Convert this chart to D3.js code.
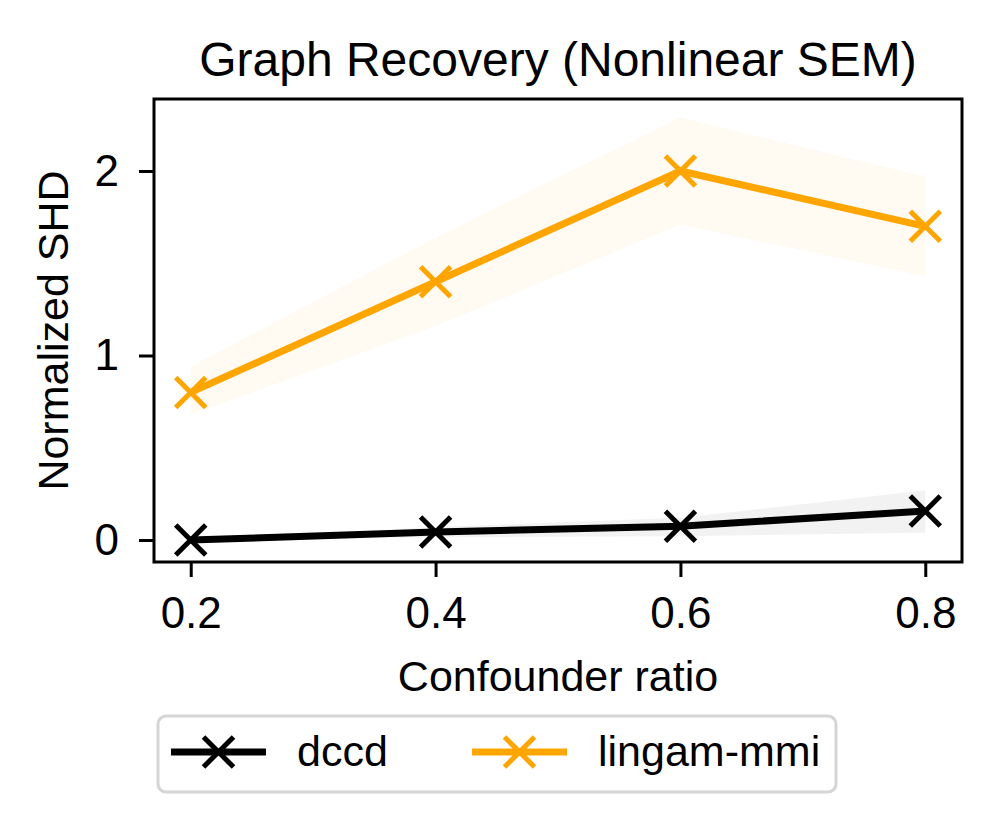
<!DOCTYPE html>
<html>
<head>
<meta charset="utf-8">
<script src="https://cdn.jsdelivr.net/npm/d3@7"></script>
<style>
  body { margin: 0; background: #fff; }
  text { font-family: "Liberation Sans", Arial, Helvetica, sans-serif; fill: #000; }
</style>
</head>
<body>
<svg id="chart"></svg>
<script>
const width = 995, height = 814;
const box = { left: 154, right: 962, top: 99, bottom: 562 };

// data
const ratios = [0.2, 0.4, 0.6, 0.8];
const xTicks = [0.2, 0.4, 0.6, 0.8];
const yTicks = [0, 1, 2];

const dccdMean  = [0.0, 0.043, 0.075, 0.157];
const dccdLow   = [0.0, 0.015, 0.02, 0.04];
const dccdHigh  = [0.0, 0.07, 0.12, 0.27];

const lingamMean = [0.8, 1.4, 2.0, 1.7];
const lingamLow  = [0.68, 1.16, 1.71, 1.43];
const lingamHigh = [0.94, 1.64, 2.29, 1.97];

const seriesNames = ["dccd", "lingam-mmi"];
const seriesColors = ["#000000", "#ffa500"];

const series = [
    { name: seriesNames[0], color: seriesColors[0], mean: dccdMean, lo: dccdLow, hi: dccdHigh },
    { name: seriesNames[1], color: seriesColors[1], mean: lingamMean, lo: lingamLow, hi: lingamHigh }
];

const svg = d3.select("#chart")
    .attr("width", width)
    .attr("height", height);

const x = d3.scaleLinear().domain([0.17, 0.83]).range([box.left, box.right]);
const y = d3.scaleLinear().domain([-0.1192, 2.3902]).range([box.bottom, box.top]);

// bands
const area = d3.area()
    .x((d, i) => x(ratios[i]))
    .y0(d => y(d[0]))
    .y1(d => y(d[1]));

series.forEach(s => {
    svg.append("path")
        .datum(s.lo.map((v, i) => [v, s.hi[i]]))
        .attr("d", area)
        .attr("fill", s.color)
        .attr("fill-opacity", 0.05);
});

// lines + x markers
const line = d3.line()
    .x((d, i) => x(ratios[i]))
    .y(d => y(d));

const markerPath = (r) => `M${-r},${-r}L${r},${r}M${-r},${r}L${r},${-r}`;

series.forEach(s => {
    svg.append("path")
        .datum(s.mean)
        .attr("d", line)
        .attr("fill", "none")
        .attr("stroke", s.color)
        .attr("stroke-width", 7)
        .attr("stroke-linejoin", "round");

    svg.append("g")
        .selectAll("path")
        .data(s.mean)
        .join("path")
        .attr("transform", (d, i) => `translate(${x(ratios[i])},${y(d)})`)
        .attr("d", markerPath(15))
        .attr("stroke", s.color)
        .attr("stroke-width", 5)
        .attr("fill", "none");
});

// axes
const xAxis = svg.append("g")
    .attr("transform", `translate(0,${box.bottom})`)
    .call(d3.axisBottom(x).tickValues(xTicks).tickFormat(d3.format(".1f")).tickSize(15).tickPadding(20));

const yAxis = svg.append("g")
    .attr("transform", `translate(${box.left},0)`)
    .call(d3.axisLeft(y).tickValues(yTicks).tickFormat(d3.format("d")).tickSize(15).tickPadding(20));

[xAxis, yAxis].forEach(g => {
    g.select(".domain").remove();
    g.selectAll(".tick line").attr("stroke", "#000").attr("stroke-width", 3);
    g.selectAll(".tick text").style("font-size", "44px").attr("fill", "#000");
});

svg.append("rect")
    .attr("x", box.left)
    .attr("y", box.top)
    .attr("width", box.right - box.left)
    .attr("height", box.bottom - box.top)
    .attr("fill", "none")
    .attr("stroke", "#000")
    .attr("stroke-width", 3);

// titles
svg.append("text")
    .attr("x", (box.left + box.right) / 2)
    .attr("y", 76)
    .attr("text-anchor", "middle")
    .style("font-size", "48px")
    .text("Graph Recovery (Nonlinear SEM)");

svg.append("text")
    .attr("x", (box.left + box.right) / 2)
    .attr("y", 691)
    .attr("text-anchor", "middle")
    .style("font-size", "43px")
    .text("Confounder ratio");

svg.append("text")
    .attr("transform", `translate(68,${(box.top + box.bottom) / 2}) rotate(-90)`)
    .attr("text-anchor", "middle")
    .style("font-size", "43px")
    .text("Normalized SHD");

// legend
const legend = svg.append("g");
legend.append("rect")
    .attr("x", 158).attr("y", 716)
    .attr("width", 678).attr("height", 76)
    .attr("rx", 8)
    .attr("fill", "#fff")
    .attr("stroke", "#d5d5d5")
    .attr("stroke-width", 3);

const legendX = [171, 472];
series.forEach((s, i) => {
    const g = legend.append("g").attr("transform", `translate(${legendX[i]},752)`);
    g.append("line")
        .attr("x1", 0).attr("x2", 95)
        .attr("stroke", s.color).attr("stroke-width", 7);
    g.append("path")
        .attr("transform", "translate(47.5,0)")
        .attr("d", markerPath(15))
        .attr("stroke", s.color).attr("stroke-width", 5);
    g.append("text")
        .attr("x", 126).attr("y", 14)
        .style("font-size", "43px")
        .text(s.name);
});
</script>
</body>
</html>
